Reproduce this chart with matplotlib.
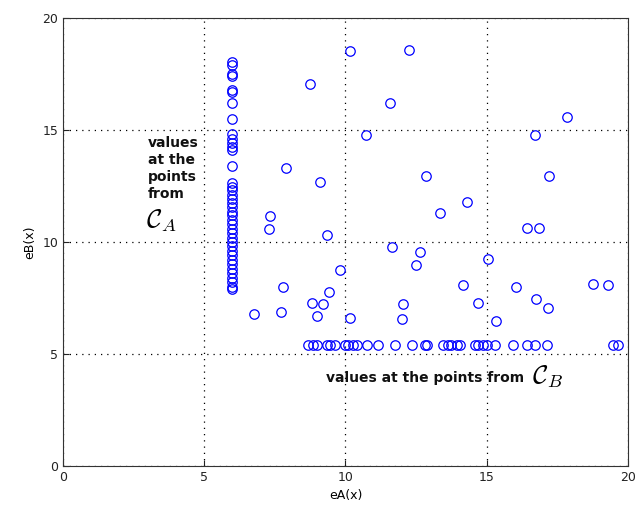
import numpy as np
import matplotlib
matplotlib.use("Agg")
import matplotlib.pyplot as plt

plt.rcParams['mathtext.fontset'] = 'cm'

# points on the vertical line eA = 6 (values at the points from C_A)
col_x = 6.0
col_y = [18.05, 17.9, 17.5, 17.4, 16.8, 16.7, 16.2, 15.5, 14.8, 14.6, 14.4,
         14.25, 14.1, 13.4, 12.65, 12.45, 12.3, 12.1, 11.9, 11.75, 11.55,
         11.35, 11.2, 11.0, 10.8, 10.6, 10.4, 10.2, 10.0, 9.8, 9.6, 9.4,
         9.2, 9.0, 8.8, 8.6, 8.4, 8.2, 8.0, 7.9]

# points on the horizontal line eB = 5.4 (values at the points from C_B)
row_y = 5.4
row_x = [8.68, 8.86, 8.98, 9.33, 9.45, 9.63, 9.98, 10.1, 10.28, 10.4, 10.75,
         11.16, 11.75, 12.34, 12.81, 12.87, 13.46, 13.64, 13.75, 13.93, 14.05,
         14.58, 14.7, 14.88, 15.0, 15.29, 15.94, 16.41, 16.71, 17.12, 19.48,
         19.66]

# remaining scattered points
scat_x = [8.74, 10.16, 12.25, 11.58, 10.73, 7.89, 9.1, 12.85, 17.84, 16.7,
          17.2, 7.33, 7.29, 9.35, 11.65, 12.64, 12.5, 13.35, 9.8, 7.79, 9.42,
          8.81, 9.2, 6.76, 7.72, 8.99, 10.16, 12.04, 12.0, 14.3, 16.42, 16.85,
          15.04, 14.16, 16.04, 18.76, 19.29, 14.69, 16.74, 17.17, 15.33]
scat_y = [17.05, 18.53, 18.57, 16.2, 14.78, 13.3, 12.68, 12.95, 15.58, 14.78,
          12.95, 11.16, 10.58, 10.31, 9.78, 9.55, 8.97, 11.3, 8.75, 8.0, 7.76,
          7.28, 7.23, 6.79, 6.88, 6.7, 6.6, 7.23, 6.56, 11.78, 10.63, 10.63,
          9.24, 8.08, 8.0, 8.13, 8.08, 7.28, 7.46, 7.05, 6.47]

xs = [col_x] * len(col_y) + row_x + scat_x
ys = col_y + [row_y] * len(row_x) + scat_y

fig = plt.figure(figsize=(6.38, 5.23), dpi=100)
ax = fig.add_axes([0.0987, 0.109, 0.8856, 0.8566])

ax.plot(xs, ys, 'o', mfc='none', mec='blue', ms=6.8, mew=0.9, ls='none')

ax.set_xlim(0, 20)
ax.set_ylim(0, 20)
ax.set_xticks([0, 5, 10, 15, 20])
ax.set_yticks([0, 5, 10, 15, 20])
ax.tick_params(direction='in', length=4, labelsize=9, colors='#222222')
ax.grid(True, ls=(0, (1, 4)), color='black', lw=0.9)
for s in ax.spines.values():
    s.set_color('#333333')
    s.set_linewidth(0.8)

ax.set_xlabel('eA(x)', fontsize=9)
ax.set_ylabel('eB(x)', fontsize=9)

# annotations
ax.text(3.0, 14.75, 'values\nat the\npoints\nfrom', fontsize=10,
        fontweight='bold', color='#111111', va='top', ha='left',
        linespacing=1.3)
ax.text(2.95, 10.95, r'$\mathcal{C}_A$', fontsize=19, va='center', ha='left')
ax.text(9.3, 3.95, 'values at the points from', fontsize=10,
        fontweight='bold', color='#111111', va='center', ha='left')
ax.text(16.6, 4.0, r'$\mathcal{C}_B$', fontsize=19, va='center', ha='left')

fig.savefig('out.png', dpi=100)
